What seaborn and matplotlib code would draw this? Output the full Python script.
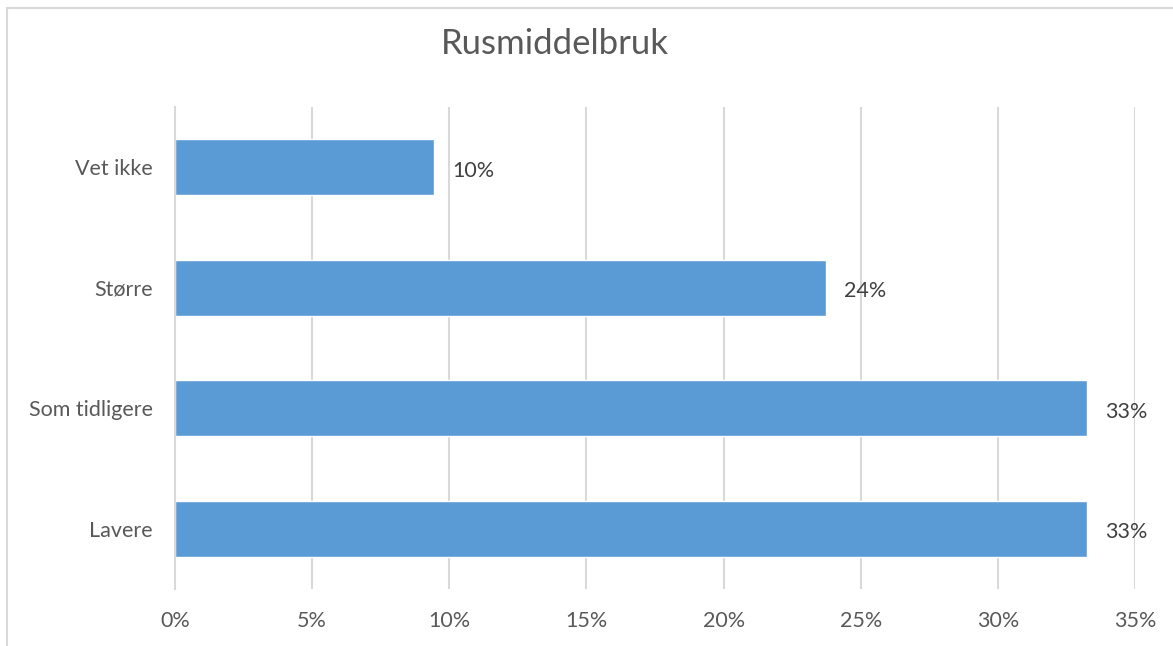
import matplotlib
matplotlib.use("Agg")
import matplotlib.pyplot as plt
import seaborn as sns
import pandas as pd
from matplotlib.patches import Rectangle
from matplotlib.ticker import FuncFormatter, FixedLocator

categories = ["Vet ikke", "Større", "Som tidligere", "Lavere"]
values = [9.45, 23.75, 33.25, 33.25]
labels = ["10%", "24%", "33%", "33%"]
xticks = [0, 5, 10, 15, 20, 25, 30, 35]

df = pd.DataFrame({"kategori": categories, "andel": values})

sns.set_style("white")
plt.rcParams["font.family"] = ["Lato", "DejaVu Sans"]

fig = plt.figure(figsize=(11.73, 6.46), dpi=100)
ax = fig.add_axes([175 / 1173, 1 - 589 / 646, 960 / 1173, 482 / 646])

# chart frame
fig.patches.append(Rectangle((7 / 1173, -0.1), 1.2, 1 - 8 / 646 + 0.1,
                             transform=fig.transFigure, fill=False,
                             edgecolor="#d9d9d9", linewidth=1.5, zorder=0))

for x in xticks[1:]:
    ax.axvline(x, color="#d9d9d9", linewidth=1.5, zorder=0)

sns.barplot(data=df, x="andel", y="kategori", orient="h", color="#5b9bd5",
            width=0.465, saturation=1, ax=ax, zorder=2)

for i, (v, lab) in enumerate(zip(values, labels)):
    ax.text(v + 0.65, i + 0.03, lab, va="center", ha="left", fontsize=15.5,
            color="#404040")

ax.set_xlim(0, 35)
ax.set_ylim(3.5, -0.5)
ax.set_xticks(xticks)
ax.xaxis.set_major_formatter(FuncFormatter(lambda v, p: f"{v:.0f}%"))
ax.set_xlabel("")
ax.set_ylabel("")

for s in ["top", "right", "bottom"]:
    ax.spines[s].set_visible(False)
ax.spines["left"].set_color("#d9d9d9")
ax.spines["left"].set_linewidth(1.5)

ax.tick_params(axis="x", length=0, pad=16, labelsize=15.5, labelcolor="#595959")
ax.tick_params(axis="y", which="major", length=0, pad=16, labelsize=15.5,
               labelcolor="#595959")
ax.yaxis.set_minor_locator(FixedLocator([-0.5, 0.5, 1.5, 2.5, 3.5]))
ax.tick_params(axis="y", which="minor", length=5, width=1.5, color="#d9d9d9",
               direction="out")

fig.text(555 / 1173, 1 - 44 / 646, "Rusmiddelbruk", ha="center", va="center",
         fontsize=25, color="#595959")

plt.savefig("out.png", dpi=100)
